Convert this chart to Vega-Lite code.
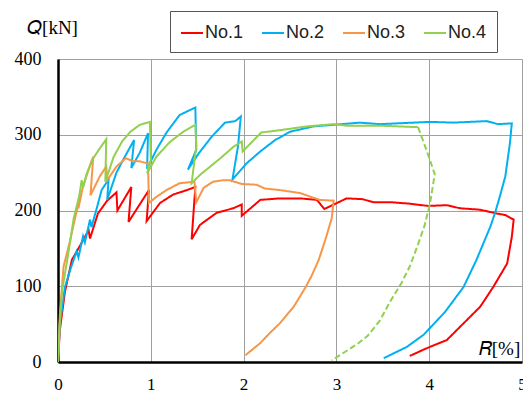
{
  "$schema": "https://vega.github.io/schema/vega-lite/v6.json",
  "width": 464,
  "height": 303,
  "autosize": "none",
  "padding": {"left": 58, "top": 59, "right": 1, "bottom": 32},
  "background": "white",
  "config": {
    "view": {"stroke": null},
    "axis": {
      "labelFont": "Liberation Serif",
      "labelFontSize": 18,
      "labelColor": "black",
      "titleFont": "Liberation Serif",
      "titleFontSize": 19,
      "titleFontWeight": "normal",
      "titleColor": "black",
      "gridColor": "#a0a0a0",
      "gridWidth": 1,
      "domainColor": "black",
      "domainWidth": 2.5,
      "ticks": false,
      "labelPadding": 17
    }
  },
  "data": {
    "values": [
      {"s":"No.1","g":"solid","i":0,"R":0,"Q":0},
      {"s":"No.1","g":"solid","i":1,"R":0.02,"Q":42},
      {"s":"No.1","g":"solid","i":2,"R":0.075,"Q":93},
      {"s":"No.1","g":"solid","i":3,"R":0.15,"Q":135},
      {"s":"No.1","g":"solid","i":4,"R":0.24,"Q":154},
      {"s":"No.1","g":"solid","i":5,"R":0.33,"Q":174},
      {"s":"No.1","g":"solid","i":6,"R":0.345,"Q":163},
      {"s":"No.1","g":"solid","i":7,"R":0.43,"Q":196},
      {"s":"No.1","g":"solid","i":8,"R":0.53,"Q":213},
      {"s":"No.1","g":"solid","i":9,"R":0.63,"Q":224},
      {"s":"No.1","g":"solid","i":10,"R":0.64,"Q":200},
      {"s":"No.1","g":"solid","i":11,"R":0.79,"Q":231},
      {"s":"No.1","g":"solid","i":12,"R":0.76,"Q":185},
      {"s":"No.1","g":"solid","i":13,"R":0.98,"Q":227},
      {"s":"No.1","g":"solid","i":14,"R":0.955,"Q":186},
      {"s":"No.1","g":"solid","i":15,"R":1.10,"Q":210},
      {"s":"No.1","g":"solid","i":16,"R":1.24,"Q":221},
      {"s":"No.1","g":"solid","i":17,"R":1.39,"Q":227},
      {"s":"No.1","g":"solid","i":18,"R":1.48,"Q":231},
      {"s":"No.1","g":"solid","i":19,"R":1.44,"Q":162},
      {"s":"No.1","g":"solid","i":20,"R":1.53,"Q":181},
      {"s":"No.1","g":"solid","i":21,"R":1.71,"Q":197},
      {"s":"No.1","g":"solid","i":22,"R":1.89,"Q":203},
      {"s":"No.1","g":"solid","i":23,"R":1.98,"Q":208},
      {"s":"No.1","g":"solid","i":24,"R":1.98,"Q":193},
      {"s":"No.1","g":"solid","i":25,"R":2.18,"Q":214},
      {"s":"No.1","g":"solid","i":26,"R":2.39,"Q":216},
      {"s":"No.1","g":"solid","i":27,"R":2.61,"Q":216},
      {"s":"No.1","g":"solid","i":28,"R":2.79,"Q":214},
      {"s":"No.1","g":"solid","i":29,"R":2.87,"Q":202},
      {"s":"No.1","g":"solid","i":30,"R":3.11,"Q":216},
      {"s":"No.1","g":"solid","i":31,"R":3.28,"Q":215},
      {"s":"No.1","g":"solid","i":32,"R":3.40,"Q":211},
      {"s":"No.1","g":"solid","i":33,"R":3.58,"Q":211},
      {"s":"No.1","g":"solid","i":34,"R":3.79,"Q":209},
      {"s":"No.1","g":"solid","i":35,"R":3.99,"Q":206},
      {"s":"No.1","g":"solid","i":36,"R":4.19,"Q":207},
      {"s":"No.1","g":"solid","i":37,"R":4.33,"Q":203},
      {"s":"No.1","g":"solid","i":38,"R":4.55,"Q":201},
      {"s":"No.1","g":"solid","i":39,"R":4.73,"Q":196},
      {"s":"No.1","g":"solid","i":40,"R":4.82,"Q":194},
      {"s":"No.1","g":"solid","i":41,"R":4.91,"Q":188},
      {"s":"No.1","g":"solid","i":42,"R":4.89,"Q":165},
      {"s":"No.1","g":"solid","i":43,"R":4.84,"Q":130},
      {"s":"No.1","g":"solid","i":44,"R":4.69,"Q":99},
      {"s":"No.1","g":"solid","i":45,"R":4.55,"Q":73},
      {"s":"No.1","g":"solid","i":46,"R":4.37,"Q":51},
      {"s":"No.1","g":"solid","i":47,"R":4.19,"Q":29},
      {"s":"No.1","g":"solid","i":48,"R":3.97,"Q":18},
      {"s":"No.1","g":"solid","i":49,"R":3.79,"Q":8},

      {"s":"No.2","g":"solid","i":0,"R":0,"Q":0},
      {"s":"No.2","g":"solid","i":1,"R":0.02,"Q":50},
      {"s":"No.2","g":"solid","i":2,"R":0.075,"Q":99},
      {"s":"No.2","g":"solid","i":3,"R":0.13,"Q":121},
      {"s":"No.2","g":"solid","i":4,"R":0.2,"Q":146},
      {"s":"No.2","g":"solid","i":5,"R":0.22,"Q":138},
      {"s":"No.2","g":"solid","i":6,"R":0.27,"Q":166},
      {"s":"No.2","g":"solid","i":7,"R":0.29,"Q":158},
      {"s":"No.2","g":"solid","i":8,"R":0.345,"Q":188},
      {"s":"No.2","g":"solid","i":9,"R":0.36,"Q":178},
      {"s":"No.2","g":"solid","i":10,"R":0.42,"Q":204},
      {"s":"No.2","g":"solid","i":11,"R":0.47,"Q":227},
      {"s":"No.2","g":"solid","i":12,"R":0.545,"Q":241},
      {"s":"No.2","g":"solid","i":13,"R":0.53,"Q":214},
      {"s":"No.2","g":"solid","i":14,"R":0.63,"Q":250},
      {"s":"No.2","g":"solid","i":15,"R":0.72,"Q":271},
      {"s":"No.2","g":"solid","i":16,"R":0.82,"Q":293},
      {"s":"No.2","g":"solid","i":17,"R":0.79,"Q":256},
      {"s":"No.2","g":"solid","i":18,"R":0.88,"Q":276},
      {"s":"No.2","g":"solid","i":19,"R":0.97,"Q":302},
      {"s":"No.2","g":"solid","i":20,"R":0.96,"Q":255},
      {"s":"No.2","g":"solid","i":21,"R":1.06,"Q":280},
      {"s":"No.2","g":"solid","i":22,"R":1.17,"Q":303},
      {"s":"No.2","g":"solid","i":23,"R":1.31,"Q":326},
      {"s":"No.2","g":"solid","i":24,"R":1.48,"Q":336},
      {"s":"No.2","g":"solid","i":25,"R":1.49,"Q":280},
      {"s":"No.2","g":"solid","i":26,"R":1.40,"Q":254},
      {"s":"No.2","g":"solid","i":27,"R":1.52,"Q":276},
      {"s":"No.2","g":"solid","i":28,"R":1.66,"Q":298},
      {"s":"No.2","g":"solid","i":29,"R":1.80,"Q":316},
      {"s":"No.2","g":"solid","i":30,"R":1.91,"Q":318},
      {"s":"No.2","g":"solid","i":31,"R":1.97,"Q":324},
      {"s":"No.2","g":"solid","i":32,"R":1.94,"Q":285},
      {"s":"No.2","g":"solid","i":33,"R":1.88,"Q":241},
      {"s":"No.2","g":"solid","i":34,"R":2.03,"Q":262},
      {"s":"No.2","g":"solid","i":35,"R":2.18,"Q":278},
      {"s":"No.2","g":"solid","i":36,"R":2.34,"Q":293},
      {"s":"No.2","g":"solid","i":37,"R":2.50,"Q":304},
      {"s":"No.2","g":"solid","i":38,"R":2.75,"Q":311},
      {"s":"No.2","g":"solid","i":39,"R":2.96,"Q":313},
      {"s":"No.2","g":"solid","i":40,"R":3.25,"Q":316},
      {"s":"No.2","g":"solid","i":41,"R":3.47,"Q":314},
      {"s":"No.2","g":"solid","i":42,"R":4.01,"Q":317},
      {"s":"No.2","g":"solid","i":43,"R":4.26,"Q":316},
      {"s":"No.2","g":"solid","i":44,"R":4.62,"Q":318},
      {"s":"No.2","g":"solid","i":45,"R":4.74,"Q":314},
      {"s":"No.2","g":"solid","i":46,"R":4.89,"Q":315},
      {"s":"No.2","g":"solid","i":47,"R":4.87,"Q":289},
      {"s":"No.2","g":"solid","i":48,"R":4.82,"Q":245},
      {"s":"No.2","g":"solid","i":49,"R":4.76,"Q":218},
      {"s":"No.2","g":"solid","i":50,"R":4.71,"Q":197},
      {"s":"No.2","g":"solid","i":51,"R":4.66,"Q":179},
      {"s":"No.2","g":"solid","i":52,"R":4.51,"Q":135},
      {"s":"No.2","g":"solid","i":53,"R":4.37,"Q":99},
      {"s":"No.2","g":"solid","i":54,"R":4.17,"Q":66},
      {"s":"No.2","g":"solid","i":55,"R":3.94,"Q":36},
      {"s":"No.2","g":"solid","i":56,"R":3.76,"Q":20},
      {"s":"No.2","g":"solid","i":57,"R":3.51,"Q":5},

      {"s":"No.3","g":"solid","i":0,"R":0,"Q":0},
      {"s":"No.3","g":"solid","i":1,"R":0.02,"Q":62},
      {"s":"No.3","g":"solid","i":2,"R":0.06,"Q":126},
      {"s":"No.3","g":"solid","i":3,"R":0.13,"Q":160},
      {"s":"No.3","g":"solid","i":4,"R":0.18,"Q":188},
      {"s":"No.3","g":"solid","i":5,"R":0.22,"Q":208},
      {"s":"No.3","g":"solid","i":6,"R":0.24,"Q":223},
      {"s":"No.3","g":"solid","i":7,"R":0.22,"Q":203},
      {"s":"No.3","g":"solid","i":8,"R":0.27,"Q":232},
      {"s":"No.3","g":"solid","i":9,"R":0.36,"Q":265},
      {"s":"No.3","g":"solid","i":10,"R":0.38,"Q":271},
      {"s":"No.3","g":"solid","i":11,"R":0.35,"Q":220},
      {"s":"No.3","g":"solid","i":12,"R":0.45,"Q":245},
      {"s":"No.3","g":"solid","i":13,"R":0.52,"Q":258},
      {"s":"No.3","g":"solid","i":14,"R":0.53,"Q":240},
      {"s":"No.3","g":"solid","i":15,"R":0.63,"Q":258},
      {"s":"No.3","g":"solid","i":16,"R":0.73,"Q":269},
      {"s":"No.3","g":"solid","i":17,"R":0.81,"Q":265},
      {"s":"No.3","g":"solid","i":18,"R":0.88,"Q":265},
      {"s":"No.3","g":"solid","i":19,"R":0.97,"Q":262},
      {"s":"No.3","g":"solid","i":20,"R":0.98,"Q":210},
      {"s":"No.3","g":"solid","i":21,"R":1.06,"Q":218},
      {"s":"No.3","g":"solid","i":22,"R":1.17,"Q":227},
      {"s":"No.3","g":"solid","i":23,"R":1.31,"Q":236},
      {"s":"No.3","g":"solid","i":24,"R":1.47,"Q":238},
      {"s":"No.3","g":"solid","i":25,"R":1.49,"Q":211},
      {"s":"No.3","g":"solid","i":26,"R":1.57,"Q":230},
      {"s":"No.3","g":"solid","i":27,"R":1.67,"Q":238},
      {"s":"No.3","g":"solid","i":28,"R":1.78,"Q":240},
      {"s":"No.3","g":"solid","i":29,"R":1.85,"Q":240},
      {"s":"No.3","g":"solid","i":30,"R":1.98,"Q":235},
      {"s":"No.3","g":"solid","i":31,"R":2.14,"Q":234},
      {"s":"No.3","g":"solid","i":32,"R":2.23,"Q":229},
      {"s":"No.3","g":"solid","i":33,"R":2.39,"Q":227},
      {"s":"No.3","g":"solid","i":34,"R":2.61,"Q":223},
      {"s":"No.3","g":"solid","i":35,"R":2.75,"Q":217},
      {"s":"No.3","g":"solid","i":36,"R":2.82,"Q":214},
      {"s":"No.3","g":"solid","i":37,"R":2.97,"Q":213},
      {"s":"No.3","g":"solid","i":38,"R":2.95,"Q":190},
      {"s":"No.3","g":"solid","i":39,"R":2.89,"Q":165},
      {"s":"No.3","g":"solid","i":40,"R":2.81,"Q":135},
      {"s":"No.3","g":"solid","i":41,"R":2.73,"Q":113},
      {"s":"No.3","g":"solid","i":42,"R":2.66,"Q":97},
      {"s":"No.3","g":"solid","i":43,"R":2.54,"Q":73},
      {"s":"No.3","g":"solid","i":44,"R":2.39,"Q":51},
      {"s":"No.3","g":"solid","i":45,"R":2.28,"Q":38},
      {"s":"No.3","g":"solid","i":46,"R":2.18,"Q":25},
      {"s":"No.3","g":"solid","i":47,"R":2.02,"Q":9},

      {"s":"No.4","g":"solid","i":0,"R":0,"Q":0},
      {"s":"No.4","g":"solid","i":1,"R":0.02,"Q":55},
      {"s":"No.4","g":"solid","i":2,"R":0.045,"Q":95},
      {"s":"No.4","g":"solid","i":3,"R":0.1,"Q":135},
      {"s":"No.4","g":"solid","i":4,"R":0.17,"Q":190},
      {"s":"No.4","g":"solid","i":5,"R":0.23,"Q":220},
      {"s":"No.4","g":"solid","i":6,"R":0.255,"Q":240},
      {"s":"No.4","g":"solid","i":7,"R":0.27,"Q":230},
      {"s":"No.4","g":"solid","i":8,"R":0.31,"Q":249},
      {"s":"No.4","g":"solid","i":9,"R":0.38,"Q":269},
      {"s":"No.4","g":"solid","i":10,"R":0.45,"Q":282},
      {"s":"No.4","g":"solid","i":11,"R":0.52,"Q":294},
      {"s":"No.4","g":"solid","i":12,"R":0.51,"Q":238},
      {"s":"No.4","g":"solid","i":13,"R":0.60,"Q":271},
      {"s":"No.4","g":"solid","i":14,"R":0.69,"Q":291},
      {"s":"No.4","g":"solid","i":15,"R":0.78,"Q":304},
      {"s":"No.4","g":"solid","i":16,"R":0.88,"Q":313},
      {"s":"No.4","g":"solid","i":17,"R":0.99,"Q":317},
      {"s":"No.4","g":"solid","i":18,"R":1.00,"Q":267},
      {"s":"No.4","g":"solid","i":19,"R":0.96,"Q":249},
      {"s":"No.4","g":"solid","i":20,"R":1.06,"Q":271},
      {"s":"No.4","g":"solid","i":21,"R":1.21,"Q":291},
      {"s":"No.4","g":"solid","i":22,"R":1.35,"Q":304},
      {"s":"No.4","g":"solid","i":23,"R":1.48,"Q":313},
      {"s":"No.4","g":"solid","i":24,"R":1.49,"Q":285},
      {"s":"No.4","g":"solid","i":25,"R":1.44,"Q":236},
      {"s":"No.4","g":"solid","i":26,"R":1.53,"Q":247},
      {"s":"No.4","g":"solid","i":27,"R":1.75,"Q":269},
      {"s":"No.4","g":"solid","i":28,"R":1.89,"Q":284},
      {"s":"No.4","g":"solid","i":29,"R":1.98,"Q":291},
      {"s":"No.4","g":"solid","i":30,"R":1.99,"Q":278},
      {"s":"No.4","g":"solid","i":31,"R":2.19,"Q":303},
      {"s":"No.4","g":"solid","i":32,"R":2.39,"Q":306},
      {"s":"No.4","g":"solid","i":33,"R":2.68,"Q":311},
      {"s":"No.4","g":"solid","i":34,"R":2.97,"Q":314},
      {"s":"No.4","g":"solid","i":35,"R":3.11,"Q":312},
      {"s":"No.4","g":"solid","i":36,"R":3.47,"Q":312},
      {"s":"No.4","g":"solid","i":37,"R":3.88,"Q":310},
      {"s":"No.4","g":"dashed","i":38,"R":3.88,"Q":310},
      {"s":"No.4","g":"dashed","i":39,"R":3.97,"Q":280},
      {"s":"No.4","g":"dashed","i":40,"R":4.06,"Q":248},
      {"s":"No.4","g":"dashed","i":41,"R":4.01,"Q":210},
      {"s":"No.4","g":"dashed","i":42,"R":3.95,"Q":180},
      {"s":"No.4","g":"dashed","i":43,"R":3.87,"Q":152},
      {"s":"No.4","g":"dashed","i":44,"R":3.79,"Q":126},
      {"s":"No.4","g":"dashed","i":45,"R":3.70,"Q":104},
      {"s":"No.4","g":"dashed","i":46,"R":3.58,"Q":80},
      {"s":"No.4","g":"dashed","i":47,"R":3.47,"Q":55},
      {"s":"No.4","g":"dashed","i":48,"R":3.34,"Q":35},
      {"s":"No.4","g":"dashed","i":49,"R":3.24,"Q":25},
      {"s":"No.4","g":"dashed","i":50,"R":2.95,"Q":2}
    ]
  },
  "mark": {"type": "line", "strokeWidth": 2, "clip": true},
  "encoding": {
    "x": {
      "field": "R", "type": "quantitative",
      "scale": {"domain": [0, 5], "nice": false, "zero": false},
      "axis": {
        "values": [0, 1, 2, 3, 4, 5], "labelFlush": false, "labelOverlap": false,
        "labelFontSize": 17, "labelPadding": 14, "labelBaseline": "top",
        "title": "𝑅[%]", "titleX": 441, "titleY": -14,
        "titleAlign": "center", "titleBaseline": "middle"
      }
    },
    "y": {
      "field": "Q", "type": "quantitative",
      "scale": {"domain": [0, 400], "nice": false},
      "axis": {
        "values": [0, 100, 200, 300, 400], "labelOverlap": false,
        "title": "𝑄[kN]", "titleAngle": 0, "titleX": -6, "titleY": -32,
        "titleAlign": "center", "titleBaseline": "middle"
      }
    },
    "color": {
      "field": "s", "type": "nominal",
      "scale": {"domain": ["No.1", "No.2", "No.3", "No.4"], "range": ["#ff0000", "#00b0f0", "#f79646", "#92d050"]},
      "legend": {
        "title": null, "orient": "none", "legendX": 112, "legendY": -48,
        "direction": "horizontal", "columns": 4,
        "strokeColor": "#555555", "fillColor": "white", "padding": 10,
        "symbolType": "stroke", "symbolSize": 484, "symbolStrokeWidth": 2,
        "labelFont": "Liberation Sans", "labelFontSize": 18, "labelColor": "#222222",
        "labelOffset": 1, "columnPadding": 14
      }
    },
    "strokeDash": {
      "field": "g", "type": "nominal",
      "scale": {"domain": ["solid", "dashed"], "range": [[1, 0], [6, 3]]},
      "legend": null
    },
    "order": {"field": "i", "type": "quantitative"}
  }
}
